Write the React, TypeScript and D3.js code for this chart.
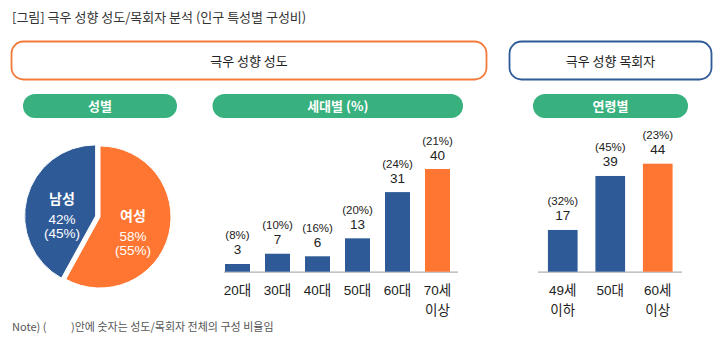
import React from "react";
import * as d3 from "d3";

const genderLabels = ["여성", "남성"];
const genderValues = [58, 42];
const genderTotalPct = ["55%", "45%"];

const genCategories = ["20대", "30대", "40대", "50대", "60대", "70세 이상"];
const genValues = [3, 7, 6, 13, 31, 40];
const genPct = ["8%", "10%", "16%", "20%", "24%", "21%"];

const ageCategories = ["49세 이하", "50대", "60세 이상"];
const ageValues = [17, 39, 44];
const agePct = ["32%", "45%", "23%"];

const BLUE = "#2e5b97";
const ORANGE = "#fe7631";
const GREEN = "#38b17e";
const FONT = "'Noto Sans CJK KR', 'Noto Sans', sans-serif";
const NUMFONT = "'Liberation Sans', Arial, sans-serif";
const MIXFONT = "'Liberation Sans', 'Noto Sans CJK KR', sans-serif";
const TEXT = "#222";

function Bars({ cats, vals, pcts, range, yTop, maxV, axis }: any) {
  const x = d3.scaleBand<string>().domain(cats).range(range).paddingInner(0.375).paddingOuter(0.1875);
  const base = 271.7;
  const y = d3.scaleLinear().domain([0, maxV]).range([base, yTop]);
  return (
    <g>
      <line x1={axis[0]} x2={axis[1]} y1={base + 0.5} y2={base + 0.5} stroke="#b0b0b0" strokeWidth={1.2} />
      {cats.map((c: string, i: number) => {
        const bx = x(c)!;
        const bw = x.bandwidth();
        const top = y(vals[i]);
        const cx = bx + bw / 2;
        const isLast = i === cats.length - 1;
        const lines = c.split(" ");
        return (
          <g key={c}>
            <rect x={bx} y={top} width={bw} height={base - top} fill={isLast ? ORANGE : BLUE} />
            <text x={cx} y={top - 9.5} textAnchor="middle" fontSize={13.5} fontFamily={NUMFONT} fill={TEXT}>{vals[i]}</text>
            <text x={cx} y={top - 24.5} textAnchor="middle" fontSize={11.5} fontFamily={NUMFONT} fill={TEXT}>({pcts[i]})</text>
            {lines.map((l, k) => (
              <text key={k} x={cx} y={295 + k * 20} textAnchor="middle" fontSize={13.5} fontFamily={MIXFONT} fill={TEXT}>{l}</text>
            ))}
          </g>
        );
      })}
    </g>
  );
}

export default function App() {
  const pie = d3.pie<number>().sort(null).value((d) => d)(genderValues);
  const arc = d3.arc<any>().innerRadius(0).outerRadius(71);
  const cx = 100, cy = 217;
  const labelPos = [
    [133, 216, 236, 250],
    [62, 199, 219, 233],
  ];
  return (
    <svg width={726} height={348} style={{ position: "absolute", left: 0, top: 0, fontFamily: FONT }}>
      <rect width={726} height={348} fill="#fff" />
      <text x={12} y={22} fontSize={13} fill="#333">[그림] 극우 성향 성도/목회자 분석 (인구 특성별 구성비)</text>

      <rect x={11.5} y={41.5} width={475} height={38} rx={12} fill="#fff" stroke="#f47a3a" strokeWidth={1.8} />
      <text x={249} y={66} textAnchor="middle" fontSize={13} fill={TEXT}>극우 성향 성도</text>
      <rect x={509.5} y={41.5} width={202} height={38} rx={12} fill="#fff" stroke={BLUE} strokeWidth={1.8} />
      <text x={610.5} y={66} textAnchor="middle" fontSize={13} fill={TEXT}>극우 성향 목회자</text>

      {[
        [23, 177, "성별"],
        [212.5, 463, "세대별 (%)"],
        [533, 688, "연령별"],
      ].map(([a, b, t]: any) => (
        <g key={t}>
          <rect x={a} y={94} width={b - a} height={24} rx={12} fill={GREEN} />
          <text x={(a + b) / 2} y={111} textAnchor="middle" fontSize={13} fontWeight={700} fill="#fff">{t}</text>
        </g>
      ))}

      {pie.map((p, i) => {
        const mid = (p.startAngle + p.endAngle) / 2;
        const off = i === 1 ? 4.5 : 0;
        const dx = Math.sin(mid) * off;
        const dy = -Math.cos(mid) * off;
        const lp = labelPos[i];
        return (
          <g key={i}>
            <path d={arc(p)!} transform={`translate(${cx + dx},${cy + dy})`} fill={i === 0 ? ORANGE : BLUE} stroke="#fff" strokeWidth={1} />
            <text x={lp[0]} y={lp[1] + 5} textAnchor="middle" fontSize={14} fontWeight={700} fill="#fff">{genderLabels[i]}</text>
            <text x={lp[0]} y={lp[2] + 5} textAnchor="middle" fontSize={13.5} fontFamily={NUMFONT} fill="#fff">{genderValues[i]}%</text>
            <text x={lp[0]} y={lp[3] + 5} textAnchor="middle" fontSize={13.5} fontFamily={NUMFONT} fill="#fff">({genderTotalPct[i]})</text>
          </g>
        );
      })}

      <Bars cats={genCategories} vals={genValues} pcts={genPct} range={[217.5, 457.5]} yTop={169} maxV={40} axis={[224, 458]} />
      <Bars cats={ageCategories} vals={ageValues} pcts={agePct} range={[539, 681.5]} yTop={163.7} maxV={44} axis={[538, 682]} />

      <text x={12} y={331} fontSize={11} fill="#555">Note) (</text>
      <text x={71} y={331} fontSize={11} fill="#555">)안에 숫자는 성도/목회자 전체의 구성 비율임</text>
    </svg>
  );
}
